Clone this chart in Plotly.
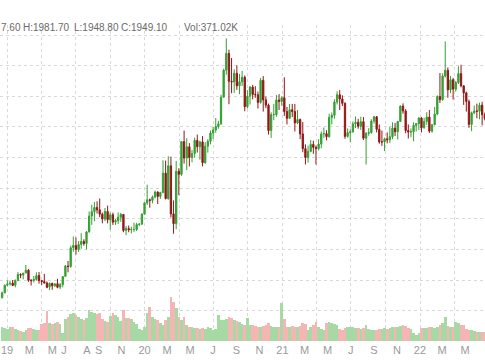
import plotly.graph_objects as go
import pandas as pd

# ---- weekly gold futures OHLC (Dec 2018 - Jun 2022) ----
opens = [1242, 1258, 1283,
         1287, 1290, 1283, 1298, 1318, 1316, 1323, 1332, 1299, 1298, 1302, 1315, 1298, 1295, 1290, 1277, 1289,
         1281, 1288, 1277, 1285, 1312, 1346, 1344, 1406, 1413, 1400, 1416, 1426, 1419, 1457, 1509, 1523, 1537,
         1529, 1515, 1499, 1524, 1497, 1513, 1489, 1494, 1505, 1514, 1462, 1468, 1464, 1465, 1465, 1481, 1482, 1515,
         1552, 1562, 1560, 1571, 1587, 1573, 1586, 1649, 1566, 1673, 1516, 1484, 1655, 1645, 1752, 1698, 1735,
         1700, 1713, 1756, 1735, 1751, 1683, 1737, 1753, 1780, 1790, 1801, 1810, 1897, 1985, 2040, 1949, 1947, 1975,
         1934, 1947, 1962, 1866, 1900, 1930, 1906, 1905, 1880, 1952, 1888, 1871, 1788, 1840, 1840, 1888, 1883,
         1895, 1850, 1828, 1856, 1850, 1813, 1824, 1777, 1729, 1700, 1720, 1743, 1733, 1729, 1744, 1777, 1778,
         1768, 1831, 1838, 1881, 1905, 1891, 1877, 1769, 1781, 1784, 1810, 1815, 1802, 1817, 1763, 1779, 1781, 1819,
         1833, 1792, 1751, 1751, 1761, 1758, 1768, 1796, 1784, 1818, 1868, 1852, 1788, 1783, 1784, 1805, 1811,
         1829, 1797, 1818, 1832, 1786, 1807, 1842, 1899, 1889, 1966, 1985, 1921, 1954, 1923, 1945, 1974, 1934,
         1911, 1883, 1808, 1846, 1852, 1851, 1871, 1840]
highs = [1262, 1285, 1299,
         1298, 1300, 1302, 1326, 1322, 1324, 1349, 1336, 1303, 1313, 1325, 1326, 1300, 1320, 1295, 1292, 1291,
         1290, 1304, 1290, 1313, 1349, 1362, 1412, 1442, 1439, 1427, 1453, 1433, 1460, 1524, 1546, 1555, 1557,
         1566, 1520, 1535, 1543, 1520, 1520, 1499, 1521, 1519, 1515, 1476, 1478, 1474, 1487, 1487, 1486, 1518, 1553,
         1611, 1566, 1576, 1592, 1590, 1588, 1691, 1690, 1704, 1703, 1560, 1689, 1665, 1753, 1788, 1763, 1747,
         1725, 1765, 1775, 1755, 1770, 1750, 1760, 1788, 1800, 1829, 1820, 1905, 1990, 2089, 2052, 2025, 1988, 2001,
         1973, 1983, 1968, 1920, 1933, 1937, 1933, 1915, 1960, 1966, 1899, 1876, 1848, 1875, 1904, 1907, 1900,
         1962, 1865, 1875, 1875, 1875, 1855, 1827, 1816, 1743, 1739, 1757, 1755, 1739, 1760, 1785, 1798, 1789,
         1843, 1847, 1890, 1916, 1920, 1903, 1880, 1795, 1792, 1818, 1834, 1826, 1833, 1832, 1783, 1796, 1825, 1836,
         1835, 1808, 1788, 1765, 1782, 1801, 1815, 1813, 1819, 1870, 1877, 1858, 1808, 1795, 1815, 1812, 1831,
         1832, 1830, 1848, 1855, 1810, 1865, 1903, 1976, 1975, 2079, 1994, 1966, 1960, 1950, 1998, 2003, 1936,
         1915, 1889, 1850, 1870, 1876, 1879, 1882, 1847]
lows = [1240, 1257, 1279,
        1282, 1280, 1276, 1297, 1306, 1302, 1322, 1294, 1282, 1292, 1298, 1288, 1284, 1288, 1273, 1267, 1268,
        1278, 1273, 1270, 1276, 1310, 1325, 1340, 1392, 1383, 1392, 1402, 1412, 1400, 1455, 1480, 1492, 1517,
        1505, 1485, 1492, 1485, 1464, 1480, 1480, 1483, 1490, 1456, 1446, 1456, 1452, 1457, 1460, 1476, 1481, 1515,
        1545, 1536, 1550, 1567, 1548, 1565, 1583, 1563, 1562, 1504, 1451, 1466, 1577, 1640, 1680, 1659, 1671,
        1684, 1700, 1716, 1693, 1671, 1680, 1716, 1743, 1760, 1781, 1794, 1807, 1896, 1970, 1874, 1910, 1911, 1921,
        1907, 1933, 1851, 1860, 1873, 1890, 1895, 1860, 1876, 1850, 1861, 1775, 1764, 1822, 1833, 1855, 1869,
        1836, 1808, 1827, 1832, 1785, 1809, 1760, 1717, 1677, 1683, 1717, 1712, 1677, 1723, 1730, 1764, 1756,
        1765, 1808, 1827, 1873, 1855, 1868, 1761, 1765, 1750, 1781, 1796, 1794, 1790, 1757, 1677, 1771, 1778, 1811,
        1782, 1745, 1738, 1721, 1746, 1747, 1760, 1770, 1759, 1817, 1843, 1779, 1762, 1766, 1753, 1785, 1790,
        1782, 1794, 1807, 1780, 1781, 1805, 1838, 1878, 1885, 1961, 1895, 1910, 1889, 1915, 1940, 1929, 1872,
        1850, 1797, 1786, 1842, 1828, 1825, 1805, 1821]
closes = [1258, 1283, 1287,
          1289, 1282, 1298, 1318, 1316, 1322, 1332, 1299, 1298, 1302, 1314, 1298, 1295, 1290, 1276, 1289, 1281,
          1287, 1276, 1285, 1311, 1346, 1344, 1405, 1413, 1400, 1416, 1426, 1419, 1457, 1509, 1523, 1537, 1529,
          1515, 1499, 1524, 1497, 1513, 1489, 1494, 1505, 1514, 1462, 1468, 1464, 1465, 1465, 1481, 1482, 1515, 1552,
          1562, 1560, 1571, 1587, 1573, 1586, 1649, 1566, 1673, 1516, 1484, 1655, 1645, 1752, 1698, 1735, 1700,
          1713, 1756, 1735, 1751, 1683, 1737, 1753, 1780, 1790, 1801, 1810, 1897, 1985, 2040, 1949, 1947, 1975, 1934,
          1947, 1962, 1866, 1900, 1930, 1906, 1905, 1880, 1952, 1888, 1871, 1788, 1840, 1840, 1888, 1883, 1895,
          1850, 1828, 1856, 1850, 1813, 1824, 1777, 1729, 1700, 1720, 1743, 1733, 1729, 1744, 1777, 1778, 1768,
          1831, 1838, 1881, 1905, 1891, 1877, 1769, 1781, 1784, 1810, 1815, 1802, 1817, 1763, 1779, 1781, 1819, 1833,
          1792, 1751, 1751, 1761, 1758, 1768, 1796, 1784, 1818, 1868, 1852, 1788, 1783, 1784, 1805, 1811, 1829,
          1797, 1818, 1832, 1786, 1807, 1842, 1899, 1889, 1966, 1985, 1921, 1954, 1923, 1945, 1974, 1934, 1911,
          1883, 1808, 1846, 1852, 1851, 1871, 1840, 1827]
volumes_k = [700, 650, 600, 700, 700, 600, 550, 500, 450, 550,
             650, 650, 600, 550, 550, 850, 900, 1500, 900, 850,
             900, 950, 850, 400, 1100, 1200, 1350, 1400, 1300, 1200,
             1100, 1050, 1150, 1550, 1450, 1400, 1350, 1400, 1100, 1000,
             950, 1250, 1400, 1300, 1200, 1000, 1550, 1150, 1150, 1100,
             950, 850, 600, 550, 700, 1400, 1700, 1200, 1100, 1050,
             900, 800, 1050, 1200, 2200, 1950, 1650, 1200, 1050, 1200,
             800, 700, 700, 650, 650, 600, 650, 600, 700, 650,
             550, 600, 1300, 1050, 1050, 1100, 1200, 1150, 1050, 1000,
             950, 850, 800, 1150, 800, 800, 750, 700, 700, 750,
             800, 900, 750, 700, 700, 700, 1900, 1100, 700, 700,
             750, 700, 700, 750, 900, 850, 550, 700, 800, 950,
             700, 600, 550, 900, 950, 900, 850, 800, 600, 550,
             650, 700, 700, 700, 650, 650, 600, 650, 800, 600,
             550, 550, 550, 600, 600, 650, 600, 650, 700, 700,
             700, 750, 800, 750, 650, 600, 400, 300, 400, 650,
             650, 650, 700, 700, 650, 700, 800, 900, 1200, 750,
             700, 700, 950, 900, 800, 800, 600, 550, 550, 500,
             450, 450, 450, 450]

week_dates = pd.date_range("2018-12-19", periods=len(closes), freq="7D")

tick_dates = ["2019-01-01", "2019-03-01", "2019-05-01", "2019-06-01", "2019-08-01", "2019-09-01",
              "2019-11-01", "2020-01-01", "2020-03-01", "2020-05-01", "2020-07-01", "2020-09-01",
              "2020-11-01", "2021-01-01", "2021-03-01", "2021-05-01", "2021-07-01", "2021-09-01",
              "2021-11-01", "2022-01-01", "2022-03-01", "2022-05-01"]
tick_text = ["19", "M", "M", "J", "A", "S", "N", "20", "M", "M", "J", "S", "N",
             "21", "M", "M", "J", "S", "N", "22", "M", "M"]
grid_dates = ["2019-01-01 12:00", "2019-04-01 12:00", "2019-07-01 12:00", "2019-10-01 12:00",
              "2020-01-01 12:00", "2020-04-01 12:00", "2020-07-01 12:00", "2020-10-01 12:00",
              "2021-01-01 12:00", "2021-04-01 12:00", "2021-07-01 12:00", "2021-10-01 12:00",
              "2022-01-01 12:00", "2022-04-01 12:00"]

# header pieces: (text, pixel x)
header_items = [("7.60", 0), ("H:1981.70", 22), ("L:1948.80", 73),
                ("C:1949.10", 120), ("Vol:371.02K", 183)]

GREEN = "#34a034"
RED = "#921616"
VOL_GREEN = "#a6d9a3"
VOL_RED = "#f5b5b5"

vol_colors = [VOL_GREEN if c >= o else VOL_RED for o, c in zip(opens, closes)]

W, H = 485, 360
ML, MR, MT, MB = 0, 0, 25, 19

fig = go.Figure()
fig.add_trace(go.Bar(
    x=week_dates, y=volumes_k, yaxis="y2",
    marker=dict(color=vol_colors, line=dict(width=0)),
    width=7 * 86400000, showlegend=False, hoverinfo="skip"))
fig.add_trace(go.Candlestick(
    x=week_dates, open=opens, high=highs, low=lows, close=closes,
    increasing=dict(line=dict(color=GREEN, width=1), fillcolor=GREEN),
    decreasing=dict(line=dict(color=RED, width=1), fillcolor=RED),
    whiskerwidth=0, showlegend=False))

grid_col = "#d9d9d9"
fig.update_layout(
    width=W, height=H, margin=dict(l=ML, r=MR, t=MT, b=MB),
    paper_bgcolor="white", plot_bgcolor="white",
    font=dict(family="Liberation Sans, Arial, sans-serif"),
    bargap=0,
    xaxis=dict(
        type="date", range=["2018-12-13 10:00", "2022-06-22 14:00"],
        rangeslider=dict(visible=False),
        tickmode="array", tickvals=tick_dates, ticktext=tick_text,
        showgrid=False, zeroline=False, showline=False, ticks="",
        ticklabelstandoff=1,
        tickfont=dict(size=11, color="#9a9a9a"),
        minor=dict(tickmode="array", tickvals=grid_dates, showgrid=True,
                   gridcolor=grid_col, griddash="3px,3px", gridwidth=1, ticks=""),
    ),
    yaxis=dict(
        range=[1100.8, 2132.7], tick0=0, dtick=100,
        showgrid=True, gridcolor=grid_col, griddash="3px,3px", gridwidth=1,
        showticklabels=False, zeroline=False, showline=False, ticks="",
    ),
    yaxis2=dict(
        overlaying="y", range=[0, 15800], showgrid=False, showticklabels=False,
        zeroline=False, showline=False, ticks="",
    ),
)

for txt, px in header_items:
    fig.add_annotation(
        text=txt, xref="paper", yref="paper", x=px / W, y=(H - MB - 27) / (H - MT - MB),
        xanchor="left", yanchor="middle", showarrow=False,
        font=dict(size=10, color="#6a6a6a", family="Liberation Sans, Arial, sans-serif"),
        borderpad=0)

fig.write_html("out.html")
